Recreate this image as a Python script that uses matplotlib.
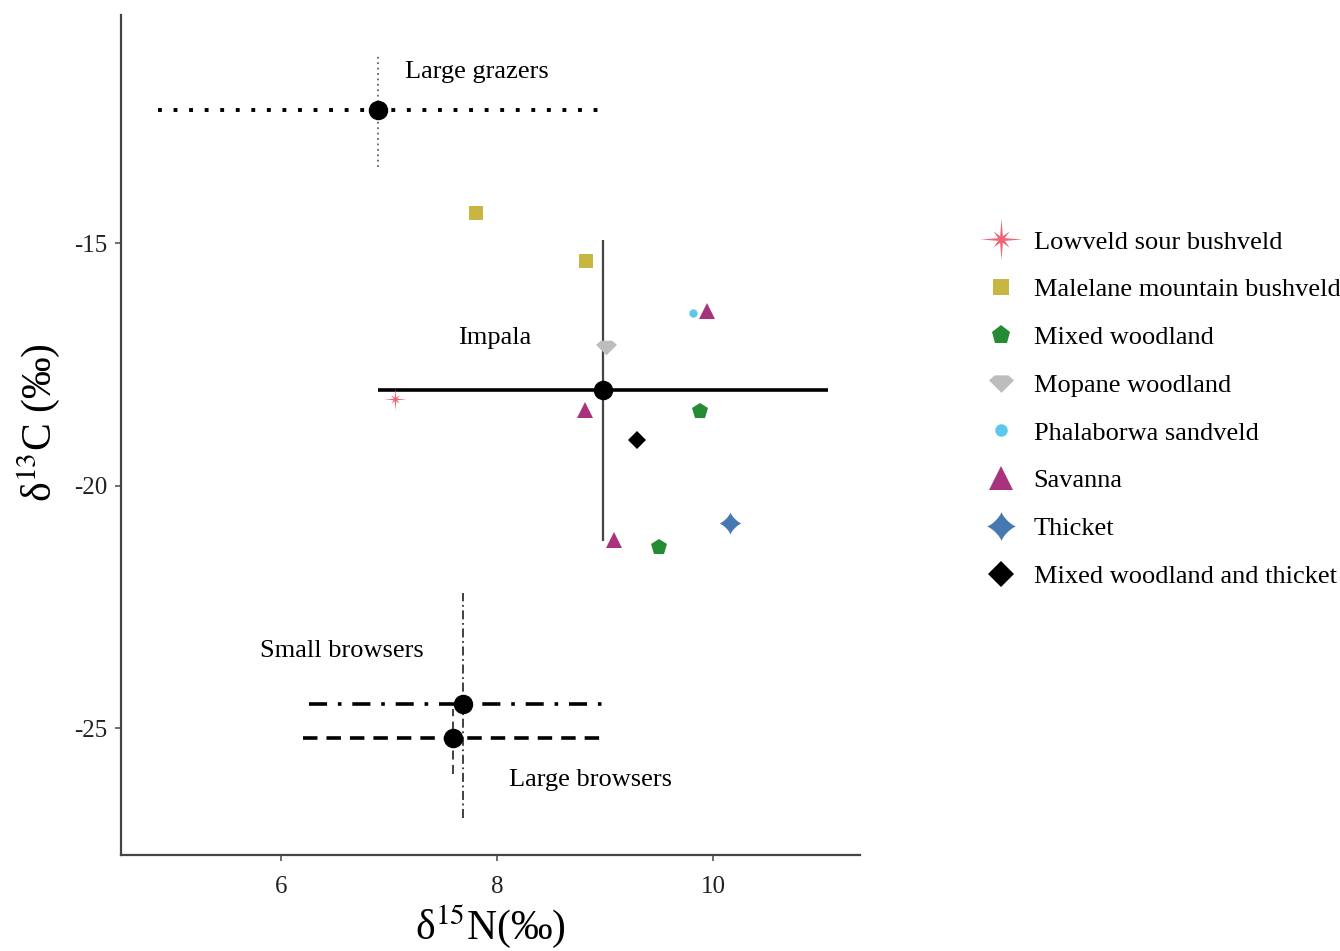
import numpy as np
import matplotlib
matplotlib.use("Agg")
import matplotlib.pyplot as plt
from matplotlib.path import Path
from matplotlib.lines import Line2D

plt.rcParams['font.family'] = ['Liberation Serif', 'DejaVu Serif']
plt.rcParams['mathtext.fontset'] = 'stix'

# ---------------- data ----------------
groups = ["Large grazers", "Impala", "Small browsers", "Large browsers"]
group_n = [6.90, 8.98, 7.69, 7.59]
group_c = [-12.26, -18.03, -24.51, -25.21]
group_n_lo = [4.86, 6.90, 6.26, 6.20]
group_n_hi = [8.99, 11.06, 8.98, 8.98]
group_c_lo = [-13.43, -21.14, -26.86, -25.95]
group_c_hi = [-11.12, -14.94, -22.22, -24.60]

habitats = ["Lowveld sour bushveld", "Malelane mountain bushveld", "Mixed woodland",
            "Mopane woodland", "Phalaborwa sandveld", "Savanna", "Thicket",
            "Mixed woodland and thicket"]
hab_n = [[7.06], [7.81, 8.82], [9.88, 9.50], [9.01], [9.81], [9.94, 8.81, 9.08], [10.16], [9.30]]
hab_c = [[-18.22], [-14.38, -15.37], [-18.46, -21.27], [-17.14], [-16.44],
         [-16.40, -18.44, -21.12], [-20.77], [-19.06]]

x_ticks = [6, 8, 10]
y_ticks = [-15, -20, -25]

# ---------------- markers ----------------
def star8():
    verts = []
    n = 16
    for i in range(n):
        ang = np.pi / 2 - i * 2 * np.pi / n
        if i % 4 == 0:
            r = 1.0
        elif i % 2 == 0:
            r = 0.55
        else:
            r = 0.17
        verts.append((r * np.cos(ang), r * np.sin(ang)))
    verts.append(verts[0])
    return Path(verts, closed=True)

def star4():
    verts = []
    n = 80
    for i in range(n + 1):
        t = 2 * np.pi * i / n
        c, s = np.cos(t), np.sin(t)
        x = np.sign(c) * abs(c) ** 2.6
        y = np.sign(s) * abs(s) ** 2.6
        verts.append((x, y))
    return Path(verts, closed=True)

def gem():
    verts = [(-1.0, 0.25), (-0.55, 0.65), (0.55, 0.65), (1.0, 0.25), (0.0, -0.75), (-1.0, 0.25)]
    return Path(verts, closed=True)

hab_colors = ["#EF6577", "#C9B541", "#258B34", "#BDBDBD", "#5CC9EC", "#A8327C", "#4679B2", "#000000"]
hab_markers = [star8(), "s", "p", gem(), "o", "^", star4(), "D"]
hab_msize = [16, 10, 12, 15, 6, 11, 16, 9]
leg_msize = [30, 12, 14, 18, 9, 17, 21, 13]

# ---------------- figure ----------------
fig = plt.figure(figsize=(13.4, 9.51), dpi=100)
ax = fig.add_axes([0.0903, 0.1009, 0.5515, 0.8831])
ax.set_xlim(4.52, 11.36)
ax.set_ylim(-27.62, -10.30)

# error bars
h_styles = [(0, (1, 3)), '-', (0, (5, 3, 1, 3)), (0, (4, 2.5))]
h_widths = [2.8, 2.6, 2.6, 2.6]
v_styles = [(0, (1, 2)), '-', (0, (5, 2, 1, 2)), (0, (5, 3))]
v_widths = [1.3, 1.6, 1.3, 1.3]
v_colors = ['#666666', '#444444', '#333333', '#333333']
for i in range(len(groups)):
    ax.hlines(group_c[i], group_n_lo[i], group_n_hi[i],
              colors='black', linestyles=h_styles[i], linewidth=h_widths[i], zorder=2)
    ax.vlines(group_n[i], group_c_lo[i], group_c_hi[i],
              colors=v_colors[i], linestyles=v_styles[i], linewidth=v_widths[i], zorder=2)
ax.plot(group_n, group_c, 'o', color='black', markersize=13, zorder=4)

# habitat points
for i in range(len(habitats)):
    ax.plot(hab_n[i], hab_c[i], linestyle='none', marker=hab_markers[i],
            color=hab_colors[i], markersize=hab_msize[i], markeredgewidth=0, zorder=3)

# group labels
lab_fs = 19
ax.text(7.15, -11.48, "Large grazers", fontsize=lab_fs, va='center', ha='left')
ax.text(7.64, -16.96, "Impala", fontsize=lab_fs, va='center', ha='left')
ax.text(5.81, -23.42, "Small browsers", fontsize=lab_fs, va='center', ha='left')
ax.text(8.11, -26.08, "Large browsers", fontsize=lab_fs, va='center', ha='left')

# axes styling
for s in ['top', 'right']:
    ax.spines[s].set_visible(False)
for s in ['left', 'bottom']:
    ax.spines[s].set_color('#444444')
    ax.spines[s].set_linewidth(1.6)
ax.set_xticks(x_ticks)
ax.set_yticks(y_ticks)
ax.set_xticklabels([str(t) for t in x_ticks])
ax.set_yticklabels([str(t) for t in y_ticks])
ax.tick_params(axis='both', colors='#555555', labelcolor='#222222', labelsize=18,
               length=4, width=1.2)
ax.tick_params(axis='x', pad=11)
ax.tick_params(axis='y', pad=6)

ax.set_xlabel("δ$^{15}$N(‰)", fontsize=30, labelpad=3)
ax.set_ylabel("δ$^{13}$C (‰)", fontsize=30, labelpad=10)
ax.yaxis.set_label_coords(-0.08, 0.515)

# legend
handles = [Line2D([], [], linestyle='none', marker=hab_markers[i], color=hab_colors[i],
                  markersize=leg_msize[i], markeredgewidth=0) for i in range(len(habitats))]
fig.legend(handles, habitats, loc='upper left', bbox_to_anchor=(0.732, 0.758),
           frameon=False, fontsize=19, labelspacing=0.92, handlelength=1.5,
           handletextpad=0.5, borderpad=0, borderaxespad=0)

fig.savefig("out.png", dpi=100)
